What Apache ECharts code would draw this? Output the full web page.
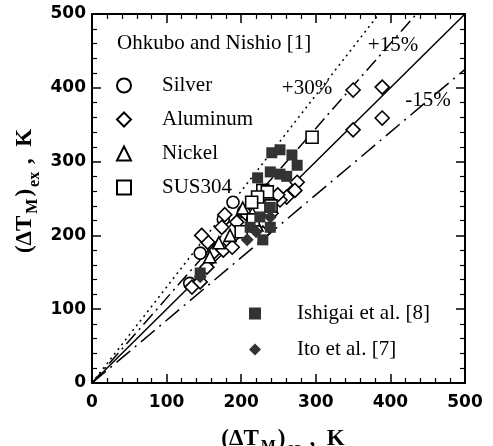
<!DOCTYPE html>
<html><head><meta charset="utf-8">
<script src="https://cdn.jsdelivr.net/npm/echarts@6/dist/echarts.min.js"></script>
<style>html,body{margin:0;padding:0;background:#fff}#c{width:493px;height:446px}</style>
</head><body><div id="c"></div>
<script>
// ---- data ----
const axisTicks = [0, 100, 200, 300, 400, 500];
const silver = [[131,135],[145,176],[176,222],[189,245],[203,232]];
const aluminum = [[350,397],[389,401],[350,343],[389,359],[275,272],[272,261],[261,252],[252,248],
  [134,130],[145,137],[154,157],[162,176],[176,180],[188,184],[174,211],[178,228],[194,218],
  [208,228],[229,203],[249,255],[155,191],[147,200],[240,230]];
const nickel = [[185,200],[158,171],[221,214],[202,237],[170,190],[215,230]];
const sus304 = [[295,333],[229,261],[235,259],[222,252],[216,221],[214,245],[200,205],[240,240]];
const ishigai = [[241,312],[252,316],[268,309],[275,295],[239,286],[252,283],[261,280],[222,278],
  [212,211],[239,211],[229,194],[145,149],[239,238],[225,225]];
const ito = [[145,144],[208,194],[239,225],[220,205]];
const lineEqual = [[0,0],[500,500]];
const linePlus15 = [[0,0],[500,575]];
const linePlus30 = [[0,0],[500,650]];
const lineMinus15 = [[0,0],[500,425]];

const SERIF = '"Liberation Serif", "Times New Roman", serif';
const chart = echarts.init(document.getElementById('c'), null, {renderer:'canvas'});

const ctx = document.createElement('canvas').getContext('2d');
function tw(t, font){ ctx.font = font; return ctx.measureText(t).width; }
function titlePieces(pieces, cx, cy, rotation){
  const mainF = 'bold 23px ' + SERIF, subF = 'bold 16px ' + SERIF;
  const gap = 2;
  let total = 0;
  pieces.forEach(p => { p.font = p.sub ? subF : mainF; p.w = tw(p.t, p.font); total += p.w; });
  total += gap * (pieces.length - 1);
  let x = -total/2;
  const children = pieces.map(p => {
    const el = {type:'text', style:{text:p.t, x:x, y:(p.dy||0), font:p.font, fill:'#000',
      textAlign:'left', textVerticalAlign:'middle'}};
    x += p.w + gap; return el;
  });
  return {type:'group', x:cx, y:cy, rotation:rotation, children:children};
}

function lineSeries(data, type){
  return {type:'line', data:data, symbol:'none', showSymbol:false, silent:true, clip:true, z:1,
    lineStyle:{color:'#000', width:1.5, type:type}, animation:false};
}
function scatter(name, data, symbol, size, fill, border){
  return {type:'scatter', name:name, data:data, symbol:symbol, symbolSize:size, z:3, animation:false,
    itemStyle:{color:fill, borderColor:border, borderWidth: fill === '#fff' ? 1.6 : 0, opacity:1}};
}
function axisCommon(pos, showLabel, isX){
  return {type:'value', min:0, max:500, interval:100, position:pos,
    axisLine:{show:true, onZero:false, lineStyle:{color:'#000', width:2}},
    axisTick:{show:true, inside:true, length:9, lineStyle:{color:'#000', width:1.5}},
    minorTick:{show:true, splitNumber:5, length:5, lineStyle:{color:'#000', width:1.2}},
    splitLine:{show:false},
    axisLabel:{show:showLabel, fontFamily:'"DejaVu Sans", sans-serif', fontSize:17, fontWeight:'bold', color:'#000',
      margin: isX ? 11 : 6, formatter: v => String(axisTicks[axisTicks.indexOf(v)])}};
}

const option = {
  backgroundColor:'#fff',
  animation:false,
  grid:{left:92, right:28, top:14, bottom:63, containLabel:false},
  xAxis:[axisCommon('bottom', true, true), axisCommon('top', false, true)],
  yAxis:[axisCommon('left', true, false), axisCommon('right', false, false)],
  legend:[
    {orient:'vertical', left:111, top:70, itemWidth:14, itemHeight:14, itemGap:13, selectedMode:false,
      data:['Silver','Aluminum','Nickel','SUS304'],
      textStyle:{fontFamily:SERIF, fontSize:21, color:'#000', lineHeight:20, padding:[0,0,0,26]}},
    {orient:'vertical', left:244, top:298, itemWidth:12, itemHeight:12, itemGap:15, selectedMode:false,
      data:['Ishigai et al. [8]','Ito et al. [7]'],
      textStyle:{fontFamily:SERIF, fontSize:21, color:'#000', lineHeight:20, padding:[0,0,0,31]}}
  ],
  series:[
    lineSeries(lineEqual, 'solid'),
    lineSeries(linePlus15, [14,5,2,5]),
    lineSeries(linePlus30, [2,4]),
    lineSeries(lineMinus15, [18,6,2,6]),
    scatter('Silver', silver, 'circle', 12, '#fff', '#000'),
    scatter('Aluminum', aluminum, 'diamond', 14, '#fff', '#000'),
    scatter('Nickel', nickel, 'triangle', 12, '#fff', '#000'),
    scatter('SUS304', sus304, 'rect', 12, '#fff', '#000'),
    scatter('Ishigai et al. [8]', ishigai, 'rect', 11, '#333', '#333'),
    scatter('Ito et al. [7]', ito, 'diamond', 13, '#333', '#333')
  ],
  graphic:[
    {type:'text', left:117, top:33, style:{text:'Ohkubo and Nishio [1]', font:'21px ' + SERIF, fill:'#000'}},
    {type:'text', x:393, y:45, style:{text:'+15%', font:'21px ' + SERIF, fill:'#000', textAlign:'center', textVerticalAlign:'middle'}},
    {type:'text', x:307, y:88, style:{text:'+30%', font:'21px ' + SERIF, fill:'#000', textAlign:'center', textVerticalAlign:'middle'}},
    {type:'text', x:428, y:100, style:{text:'-15%', font:'21px ' + SERIF, fill:'#000', textAlign:'center', textVerticalAlign:'middle'}},
    titlePieces([{t:'(ΔT'},{t:'M',sub:true,dy:8},{t:')'},{t:'sa',sub:true,dy:10},{t:' ,  K'}], 283, 439, 0),
    titlePieces([{t:'(ΔT'},{t:'M',sub:true,dy:8},{t:')'},{t:'ex',sub:true,dy:10},{t:' ,  K'}], 25, 191, Math.PI/2)
  ]
};
chart.setOption(option);
</script></body></html>
